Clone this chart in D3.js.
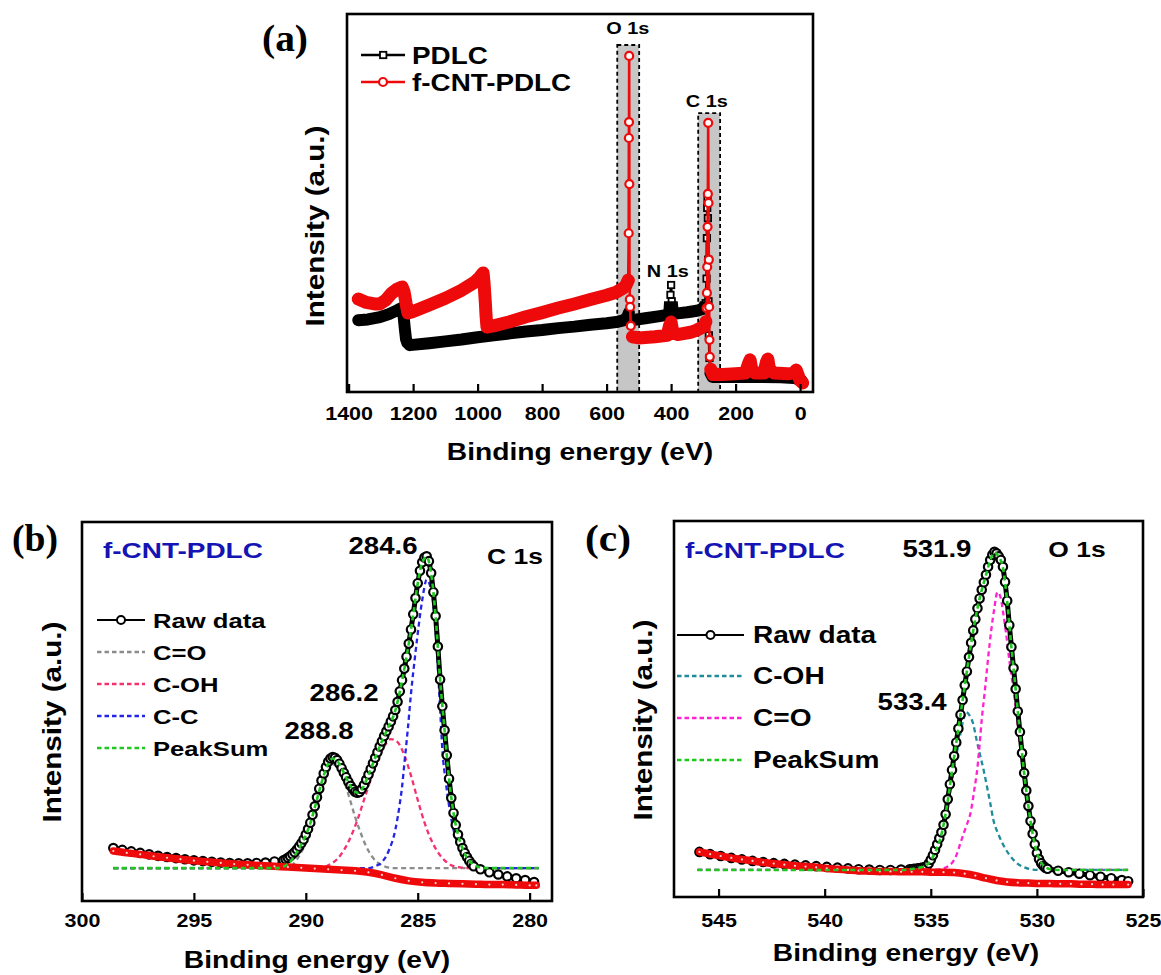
<!DOCTYPE html>
<html>
<head>
<meta charset="utf-8">
<script src="https://cdn.jsdelivr.net/npm/d3@7"></script>
<style>
  body { margin: 0; background: #fff; }
  text { font-family: "Liberation Sans", Arial, sans-serif; font-weight: bold; fill: #000; }
  text.serif { font-family: "Liberation Serif", "Times New Roman", serif; }
</style>
</head>
<body>
<div id="chart"></div>
<script>
/*####### Data #######*/

// (a) survey spectra  [binding energy (eV), intensity (a.u.)]
const surveyTicks = [1400, 1200, 1000, 800, 600, 400, 200, 0];
const surveyPDLC = [
  [1370,19.0],[1340,19.2],[1303,19.8],[1275,20.6],[1250,21.6],[1236,22.2],[1230,20.5],[1226,17.0],
  [1222,14.0],[1218,13.0],[1210,12.4],[1150,12.9],[1100,13.4],[1050,13.9],[1000,14.5],[950,15.0],
  [900,15.5],[850,16.0],[800,16.4],[750,16.9],[700,17.3],[650,17.8],[600,18.2],[570,18.5],[545,19.0],
  [535,20.0],[531,21.0],[527,19.0],[520,19.0],[480,19.5],[440,20.0],[412,20.4],[405,21.5],[402,25.7],
  [400,28.3],[398,24.0],[395,21.0],[380,20.8],[350,21.1],[320,21.5],[300,22.0],[293,23.5],[290,30.0],
  [289,40.7],[288,48.7],[287,50.8],[286,46.0],[285,35.0],[284,24.0],[283,15.0],[281,9.0],[278,5.0],
  [272,4.0],[200,4.0],[120,4.0],[60,3.9],[20,3.7],[5,3.4],[-5,3.0]
];
const surveyCNT = [
  [1370,24.6],[1345,23.7],[1320,23.3],[1303,23.3],[1285,24.3],[1268,26.0],[1250,27.2],[1234,27.8],
  [1228,26.5],[1222,23.5],[1216,20.9],[1200,21.3],[1150,23.0],[1100,24.8],[1050,26.9],[1010,29.0],
  [993,30.4],[983,31.5],[980,28.8],[978,26.2],[976,23.6],[974,20.4],[971,17.2],[950,17.5],[900,18.6],
  [850,19.9],[800,21.0],[750,22.2],[700,23.3],[650,24.5],[600,25.6],[570,26.4],[550,27.4],[540,28.2],
  [533,29.6],[531.5,42.0],[531,67.2],[530.5,71.4],[530,88.9],[529.5,55.0],[529,29.5],[528,24.5],
  [527,22.5],[525,17.5],[520,14.6],[500,14.3],[450,14.6],[412,15.0],[405,17.5],[400,18.5],[395,16.0],
  [380,15.2],[340,15.8],[320,16.4],[300,17.2],[292,18.6],[290,22.2],[289,26.2],[288,33.1],[287,43.7],
  [286,52.4],[285,71.2],[284,50.0],[283,35.0],[282,22.5],[281,13.8],[280,9.3],[277,6.0],[270,4.6],
  [240,4.6],[200,4.8],[170,5.0],[160,7.5],[155,8.5],[150,6.0],[140,5.0],[112,5.0],[105,7.8],[100,8.7],
  [95,6.0],[80,5.0],[40,4.8],[20,5.0],[12,5.8],[5,4.2],[0,3.0],[-8,2.4]
];
const surveyRegions = [
  { name: 'O 1s', from: 567, to: 499, top: 91.8 },
  { name: 'C 1s', from: 316, to: 248, top: 73.8 }
];
const surveyNotes = [['O 1s', 534, 94.7], ['C 1s', 289, 75.4], ['N 1s', 410, 30.4]];

// (b) C 1s high resolution
const c1sTicks = [300, 295, 290, 285, 280];
const c1sRaw = [
  [298.6,12.6],[298.2,12.1],[297.8,11.7],[297.4,11.3],[297.0,10.9],[296.6,10.5],[296.2,10.2],[295.8,9.9],
  [295.4,9.6],[295.0,9.3],[294.6,9.1],[294.2,8.9],[293.8,8.7],[293.4,8.6],[293.0,8.5],[292.6,8.5],
  [292.2,8.6],[291.8,8.7],[291.4,9.0],[291.0,9.3],[290.9,9.6],[290.8,10.0],[290.7,10.4],[290.6,10.9],
  [290.5,11.5],[290.4,12.2],[290.3,13.0],[290.2,13.9],[290.1,14.9],[290.0,16.2],[289.9,17.7],[289.8,19.4],
  [289.7,21.5],[289.6,23.8],[289.5,26.2],[289.4,28.5],[289.3,30.7],[289.2,32.6],[289.1,34.3],[289.0,35.7],
  [288.9,36.6],[288.8,37.0],[288.7,36.8],[288.6,36.2],[288.5,35.2],[288.4,34.0],[288.3,32.8],[288.2,31.6],
  [288.1,30.4],[288.0,29.3],[287.9,28.4],[287.8,27.7],[287.7,27.4],[287.6,27.6],[287.5,28.4],[287.4,29.5],
  [287.3,30.9],[287.2,32.3],[287.1,33.8],[287.0,35.3],[286.9,36.8],[286.8,38.3],[286.7,39.8],[286.6,41.2],
  [286.5,42.6],[286.4,43.9],[286.3,45.2],[286.2,46.5],[286.1,47.9],[286.0,49.6],[285.9,51.8],[285.8,54.6],
  [285.7,57.6],[285.6,60.7],[285.5,63.9],[285.4,67.4],[285.3,71.2],[285.2,75.3],[285.1,79.6],[285.0,83.6],
  [284.9,86.9],[284.8,89.2],[284.7,90.5],[284.6,90.8],[284.5,89.5],[284.4,86.3],[284.3,81.2],[284.2,74.8],
  [284.1,66.6],[284.0,57.8],[283.9,50.6],[283.8,44.2],[283.7,37.5],[283.6,31.2],[283.5,26.0],[283.4,22.0],
  [283.3,18.8],[283.2,16.2],[283.1,14.2],[283.0,12.6],[282.9,11.3],[282.8,10.2],[282.7,9.2],[282.6,8.4],
  [282.5,7.7],[282.2,6.9],[281.8,6.1],[281.4,5.5],[281.0,5.0],[280.6,4.5],[280.2,4.0],[279.8,3.5]
];
const c1sBackground = [
  [298.6,11.8],[298.0,11.3],[297.4,10.9],[296.8,10.4],[296.2,10.0],[295.6,9.6],[295.0,9.2],[294.4,8.9],
  [293.8,8.6],[293.2,8.3],[292.6,8.1],[292.0,7.9],[291.4,7.7],[290.8,7.5],[290.2,7.3],[289.6,7.1],
  [289.0,6.9],[288.4,6.7],[287.8,6.5],[287.2,6.1],[286.6,5.4],[286.0,4.5],[285.4,3.8],[284.8,3.4],
  [284.2,3.2],[283.6,3.1],[283.0,3.0],[282.4,2.9],[281.8,2.8],[281.2,2.8],[280.6,2.7],[280.0,2.6],[279.7,2.6]
];
const c1sCO = [
  [298.6,7.2],[292.0,7.2],[290.8,7.3],[290.6,8.0],[290.4,9.5],[290.2,11.5],[290.0,14.0],[289.8,17.5],
  [289.6,21.5],[289.4,25.8],[289.2,29.8],[289.0,33.0],[288.8,35.0],[288.6,34.8],[288.4,32.5],[288.2,29.0],
  [288.0,25.0],[287.8,21.0],[287.6,17.5],[287.3,13.0],[287.0,10.0],[286.7,8.3],[286.4,7.5],[286.0,7.2],[279.6,7.2]
];
const c1sCOH = [
  [298.6,7.2],[289.6,7.2],[289.2,7.5],[288.9,8.3],[288.6,9.6],[288.3,12.0],[288.0,15.5],[287.7,20.0],
  [287.4,25.5],[287.1,31.0],[286.8,36.0],[286.5,39.8],[286.2,41.8],[285.9,41.0],[285.6,37.5],[285.3,32.0],
  [285.0,25.5],[284.7,19.5],[284.4,14.8],[284.1,11.5],[283.8,9.3],[283.5,8.0],[283.1,7.4],[282.6,7.2],[279.6,7.2]
];
const c1sCC = [
  [298.6,7.2],[287.2,7.2],[286.9,7.7],[286.6,8.8],[286.3,11.8],[286.0,17.5],[285.8,24.5],[285.7,29.0],
  [285.6,35.0],[285.45,44.0],[285.3,54.0],[285.1,65.0],[284.95,72.5],[284.8,79.0],[284.6,84.5],
  [284.45,83.0],[284.3,78.0],[284.2,71.0],[284.1,61.0],[284.0,50.0],[283.9,39.0],[283.75,30.5],
  [283.6,24.0],[283.4,17.5],[283.2,13.5],[283.0,11.0],[282.8,9.0],[282.5,7.6],[282.1,7.2],[279.6,7.2]
];
const c1sSum = [
  [298.6,7.2],[291.4,7.2],[291.0,7.6],[290.8,8.3],[290.6,9.6],[290.4,11.5],[290.2,13.6],[290.0,16.0],
  [289.8,19.2],[289.6,23.4],[289.4,27.9],[289.2,32.0],[289.0,35.2],[288.8,36.6],[288.6,36.0],[288.4,34.0],
  [288.2,31.5],[288.0,29.2],[287.8,27.7],[287.7,27.4],[287.5,28.3],[287.2,32.2],[286.9,36.8],[286.6,41.2],
  [286.3,45.2],[286.0,49.5],[285.8,54.5],[285.6,60.6],[285.4,67.4],[285.2,75.2],[285.0,83.5],[284.8,89.1],
  [284.6,90.6],[284.4,86.2],[284.2,74.7],[284.0,57.8],[283.8,44.2],[283.6,31.2],[283.4,22.0],[283.2,16.2],
  [283.0,12.5],[282.8,10.0],[282.6,8.6],[282.4,7.8],[282.1,7.3],[281.8,7.2],[279.6,7.2]
];
const c1sPeaks = [['284.6', 286.55, 91.3], ['286.2', 288.29, 52.0], ['288.8', 289.41, 41.9]];

// (c) O 1s high resolution
const o1sTicks = [545, 540, 535, 530, 525];
const o1sRaw = [
  [545.9,12.0],[545.4,11.4],[544.9,10.9],[544.4,10.4],[543.9,10.0],[543.4,9.6],[542.9,9.3],[542.4,9.0],
  [541.9,8.8],[541.4,8.6],[540.9,8.4],[540.4,8.2],[539.9,8.0],[539.4,7.8],[538.9,7.6],[538.4,7.4],
  [537.9,7.3],[537.4,7.2],[536.9,7.2],[536.4,7.3],[536.0,7.4],[535.9,7.4],[535.8,7.5],[535.7,7.5],
  [535.6,7.6],[535.5,7.7],[535.4,7.8],[535.3,7.9],[535.2,8.1],[535.1,8.9],[535.0,9.9],[534.9,11.1],
  [534.8,12.5],[534.7,14.0],[534.6,15.6],[534.5,17.2],[534.4,19.2],[534.3,22.0],[534.2,26.0],[534.1,30.0],
  [534.0,33.8],[533.9,37.5],[533.8,41.1],[533.7,44.8],[533.6,48.5],[533.5,52.4],[533.4,56.3],[533.3,60.0],
  [533.2,63.8],[533.1,67.6],[533.0,70.9],[532.9,73.9],[532.8,76.8],[532.7,79.4],[532.6,81.7],[532.5,83.7],
  [532.4,85.7],[532.3,87.8],[532.2,89.6],[532.1,91.0],[532.0,91.8],[531.9,91.4],[531.8,90.6],[531.7,89.7],
  [531.6,87.8],[531.5,83.8],[531.4,78.8],[531.3,72.3],[531.2,66.5],[531.1,60.9],[531.0,55.3],[530.9,49.4],
  [530.8,43.9],[530.7,38.3],[530.6,33.0],[530.5,28.3],[530.4,24.2],[530.3,20.2],[530.2,16.8],[530.1,14.0],
  [530.0,11.7],[529.9,10.1],[529.8,9.0],[529.7,8.3],[529.6,7.8],[529.5,7.5],[529.0,7.0],[528.5,6.6],
  [528.0,6.2],[527.5,5.8],[527.0,5.4],[526.5,5.0],[526.0,4.5],[525.7,4.2]
];
const o1sBackground = [
  [545.9,12.0],[545.4,11.4],[544.9,10.9],[544.4,10.4],[543.9,10.0],[543.4,9.6],[542.9,9.2],[542.4,8.9],
  [541.9,8.6],[541.4,8.3],[540.9,8.1],[540.4,7.9],[539.9,7.6],[539.4,7.4],[538.9,7.2],[538.4,7.0],
  [537.9,6.9],[537.4,6.8],[536.9,6.8],[536.4,6.7],[535.9,6.7],[535.4,6.7],[534.9,6.6],[534.4,6.6],
  [533.9,6.5],[533.4,6.2],[532.9,5.7],[532.4,5.0],[531.9,4.4],[531.4,4.0],[530.9,3.8],[530.4,3.7],
  [529.9,3.6],[529.4,3.6],[528.9,3.5],[528.4,3.5],[527.9,3.4],[527.4,3.4],[526.9,3.3],[526.4,3.3],[525.7,3.3]
];
const o1sCOH = [
  [546.0,7.2],[536.6,7.2],[535.6,7.4],[535.3,8.0],[535.0,9.6],[534.8,11.8],[534.6,14.8],[534.4,19.0],
  [534.2,24.5],[534.0,31.0],[533.8,37.5],[533.6,43.5],[533.45,47.5],[533.35,49.2],[533.2,48.5],[533.0,46.0],
  [532.85,42.0],[532.7,38.3],[532.5,33.5],[532.35,29.3],[532.2,25.0],[532.05,20.5],[531.8,16.5],[531.5,13.0],
  [531.2,10.5],[530.9,8.8],[530.6,7.9],[530.2,7.3],[529.8,7.2],[525.7,7.2]
];
const o1sCO = [
  [546.0,7.2],[535.0,7.2],[534.5,7.5],[534.1,8.5],[533.8,11.0],[533.6,14.4],[533.35,18.5],[533.1,23.1],
  [532.95,28.5],[532.8,34.5],[532.7,40.5],[532.6,47.1],[532.45,55.0],[532.3,63.5],[532.15,71.0],[532.0,77.0],
  [531.86,81.1],[531.7,79.5],[531.6,76.0],[531.45,70.0],[531.3,63.0],[531.1,55.0],[530.9,45.5],[530.7,36.0],
  [530.5,27.0],[530.3,19.5],[530.1,13.5],[529.9,10.0],[529.6,8.0],[529.2,7.3],[528.8,7.2],[525.7,7.2]
];
const o1sSum = [
  [546.0,7.2],[536.4,7.2],[535.8,7.5],[535.4,8.0],[535.1,9.0],[534.8,11.8],[534.5,16.6],[534.2,25.6],
  [534.0,33.5],[533.8,41.0],[533.6,48.5],[533.4,56.2],[533.2,63.8],[533.0,70.8],[532.8,76.8],[532.6,81.6],
  [532.4,85.6],[532.2,89.5],[532.0,91.6],[531.8,90.5],[531.6,87.6],[531.4,78.6],[531.2,66.4],[531.0,55.2],
  [530.8,43.8],[530.6,32.9],[530.4,24.1],[530.2,16.8],[530.0,11.8],[529.8,9.2],[529.6,7.9],[529.3,7.3],
  [529.0,7.2],[525.7,7.2]
];
const o1sPeaks = [['531.9', 534.71, 90.4], ['533.4', 535.88, 49.7]];

/*####### Styles #######*/
const RED = '#ee0a0a';
const GREEN = '#1ec81e';
const c1sColors = { 'C=O': '#8c8c8c', 'C-OH': '#f5306e', 'C-C': '#2424e6', 'PeakSum': GREEN };
const o1sColors = { 'C-OH': '#1f8c9a', 'C=O': '#ff22d0', 'PeakSum': GREEN };

/*####### Core SVG #######*/
const svg = d3.select('#chart').append('svg')
  .attr('width', 1161)
  .attr('height', 975);
svg.append('rect').attr('width', 1161).attr('height', 975).attr('fill', '#fff');
const defs = svg.append('defs');

// widen text along its direction (the figure font is wider than Arial)
function stretch(sel, k) {
  sel.each(function () {
    const len = this.getComputedTextLength();
    d3.select(this).attr('textLength', len * k).attr('lengthAdjust', 'spacingAndGlyphs');
  });
}

function addClip(id, x, y, w, h) {
  defs.append('clipPath').attr('id', id).append('rect')
    .attr('x', x).attr('y', y).attr('width', w).attr('height', h);
  return `url(#${id})`;
}

function frame(p) {
  svg.append('rect')
    .attr('x', p.left).attr('y', p.top)
    .attr('width', p.right - p.left).attr('height', p.bottom - p.top)
    .attr('fill', 'none').attr('stroke', '#000').attr('stroke-width', 2.6);
}

function bottomAxis(p, x, ticks, pad) {
  const ax = svg.append('g')
    .attr('transform', `translate(0,${p.bottom})`)
    .call(d3.axisBottom(x).tickValues(ticks).tickFormat(d3.format('d'))
      .tickSizeInner(-8).tickSizeOuter(0).tickPadding(pad));
  ax.select('.domain').remove();
  ax.selectAll('line').attr('stroke', '#000').attr('stroke-width', 2.2);
  ax.selectAll('text').attr('font-size', 18.5).call(stretch, 1.16);
}

function label(text, x, y, size, k, anchor) {
  return svg.append('text').attr('x', x).attr('y', y)
    .attr('font-size', size).attr('text-anchor', anchor || 'start')
    .text(text).call(stretch, k || 1.2);
}

function yTitle(x, y) {
  svg.append('text')
    .attr('transform', `translate(${x},${y}) rotate(-90)`)
    .attr('text-anchor', 'middle').attr('font-size', 25)
    .text('Intensity (a.u.)')
    .attr('textLength', 201).attr('lengthAdjust', 'spacingAndGlyphs');
}

function panelLetter(text, x, y) {
  svg.append('text').attr('class', 'serif')
    .attr('x', x).attr('y', y).attr('font-size', 38)
    .text(text)
    .attr('textLength', 46).attr('lengthAdjust', 'spacingAndGlyphs');
}

/*####### (a) Survey #######*/
const pa = { left: 347, right: 813, top: 14, bottom: 392 };
const xA = d3.scaleLinear().domain([1405, -40]).range([pa.left, pa.right]);
const yA = d3.scaleLinear().domain([0, 100]).range([pa.bottom, pa.top]);
const clipA = addClip('clipA', pa.left, pa.top, pa.right - pa.left, pa.bottom - pa.top);
const gA = svg.append('g').attr('clip-path', clipA);

gA.selectAll('rect.region')
  .data(surveyRegions)
  .join('rect')
  .attr('class', 'region')
  .attr('x', d => xA(d.from))
  .attr('width', d => xA(d.to) - xA(d.from))
  .attr('y', d => yA(d.top))
  .attr('height', d => pa.bottom - yA(d.top))
  .attr('fill', '#c6c6c6')
  .attr('stroke', '#000')
  .attr('stroke-width', 1.8)
  .attr('stroke-dasharray', '4,3');

const surveyLine = d3.line().x(d => xA(d[0])).y(d => yA(d[1]));

// runs of the spectrum that are not part of the steep core-level spikes
function bandRuns(data) {
  const runs = [];
  let cur = null;
  for (let i = 1; i < data.length; i++) {
    const a = data[i - 1], b = data[i];
    const dx = Math.abs(xA(b[0]) - xA(a[0]));
    const dy = Math.abs(yA(b[1]) - yA(a[1]));
    const inRegion = surveyRegions.some(r => a[0] <= r.from && b[0] >= r.to);
    if (inRegion && dy > 3 * dx) { cur = null; continue; }
    if (!cur) { cur = [a]; runs.push(cur); }
    cur.push(b);
  }
  return runs;
}

function surveySeries(data, color, bandTop, bandWidth, shape) {
  const g = gA.append('g');
  g.append('path').datum(data).attr('d', surveyLine)
    .attr('fill', 'none').attr('stroke', color).attr('stroke-width', 2.6);
  if (shape === 'square') {
    g.selectAll('rect').data(data).join('rect')
      .attr('x', d => xA(d[0]) - 3.2).attr('y', d => yA(d[1]) - 3.2)
      .attr('width', 6.4).attr('height', 6.4)
      .attr('fill', '#fff').attr('stroke', color).attr('stroke-width', 1.8);
  } else {
    g.selectAll('circle').data(data).join('circle')
      .attr('cx', d => xA(d[0])).attr('cy', d => yA(d[1])).attr('r', 4)
      .attr('fill', '#fff').attr('stroke', color).attr('stroke-width', 2.2);
  }
  // dense noisy data reads as a thick band away from the spikes
  const clip = addClip('band' + shape, pa.left, yA(bandTop), pa.right - pa.left, pa.bottom - yA(bandTop));
  g.selectAll('path.band').data(bandRuns(data)).join('path')
    .attr('class', 'band')
    .attr('d', surveyLine)
    .attr('clip-path', clip)
    .attr('fill', 'none').attr('stroke', color).attr('stroke-width', bandWidth)
    .attr('stroke-linejoin', 'round').attr('stroke-linecap', 'round');
}
surveySeries(surveyPDLC, '#000', 24, 12, 'square');
surveySeries(surveyCNT, RED, 34, 13, 'circle');

frame(pa);
bottomAxis(pa, xA, surveyTicks, 15);

surveyNotes.forEach(d => label(d[0], xA(d[1]), yA(d[2]), 17, 1.17, 'middle'));

// legend (a)
[['PDLC', '#000', 'square', 55], ['f-CNT-PDLC', RED, 'circle', 82]].forEach(([name, color, shape, cy]) => {
  svg.append('line').attr('x1', 361).attr('x2', 405).attr('y1', cy).attr('y2', cy)
    .attr('stroke', color).attr('stroke-width', 2.4);
  if (shape === 'square') {
    svg.append('rect').attr('x', 380).attr('y', cy - 3.2).attr('width', 6.4).attr('height', 6.4)
      .attr('fill', '#fff').attr('stroke', color).attr('stroke-width', 1.8);
  } else {
    svg.append('circle').attr('cx', 383).attr('cy', cy).attr('r', 4)
      .attr('fill', '#fff').attr('stroke', color).attr('stroke-width', 2.2);
  }
  label(name, 412, cy + 8.5, 23, 1.21);
});

yTitle(324, 226);
label('Binding energy (eV)', 580, 460, 23.5, 1.2, 'middle');
panelLetter('(a)', 262, 51);

/*####### (b) and (c) high resolution #######*/
function xpsPanel(p, x, y, series, ticks, pad) {
  const clip = addClip('clip' + p.left, p.left, p.top, p.right - p.left, p.bottom - p.top);
  const g = svg.append('g').attr('clip-path', clip);
  const line = d3.line().x(d => x(d[0])).y(d => y(d[1]));
  const smooth = d3.line().x(d => x(d[0])).y(d => y(d[1])).curve(d3.curveMonotoneX);

  series.comps.forEach(c => {
    g.append('path').datum(c.data).attr('d', smooth)
      .attr('fill', 'none').attr('stroke', c.color).attr('stroke-width', 2.3)
      .attr('stroke-dasharray', '5,3.5');
  });

  // raw data
  g.append('path').datum(series.raw).attr('d', line)
    .attr('fill', 'none').attr('stroke', '#000').attr('stroke-width', 5)
    .attr('stroke-linejoin', 'round');
  g.selectAll('circle.raw').data(series.raw).join('circle')
    .attr('class', 'raw')
    .attr('cx', d => x(d[0])).attr('cy', d => y(d[1])).attr('r', 4.2)
    .attr('fill', '#fff').attr('stroke', '#000').attr('stroke-width', 2.2);

  // background
  g.append('path').datum(series.bg).attr('d', smooth)
    .attr('fill', 'none').attr('stroke', RED).attr('stroke-width', 7.5)
    .attr('stroke-linecap', 'round');
  g.selectAll('circle.bg').data(series.bg).join('circle')
    .attr('class', 'bg')
    .attr('cx', d => x(d[0])).attr('cy', d => y(d[1])).attr('r', 1.1)
    .attr('fill', '#ffd6d6');

  // peak sum on top
  g.append('path').datum(series.sum).attr('d', smooth)
    .attr('fill', 'none').attr('stroke', GREEN).attr('stroke-width', 2.6)
    .attr('stroke-dasharray', '5,3.5');

  frame(p);
  bottomAxis(p, x, ticks, pad);
}

function xpsLegend(entries, x0, x1, tx, rows, size) {
  entries.forEach((e, i) => {
    const cy = rows[i];
    svg.append('line').attr('x1', x0).attr('x2', x1).attr('y1', cy).attr('y2', cy)
      .attr('stroke', e.color).attr('stroke-width', e.raw ? 2.2 : 2.3)
      .attr('stroke-dasharray', e.raw ? null : '4.5,3');
    if (e.raw) {
      svg.append('circle').attr('cx', (x0 + x1) / 2).attr('cy', cy).attr('r', 4)
        .attr('fill', '#fff').attr('stroke', '#000').attr('stroke-width', 2);
    }
    label(e.name, tx, cy + size * 0.36, size, 1.22);
  });
}

// (b)
const pb = { left: 82, right: 552, top: 522, bottom: 901 };
const xB = d3.scaleLinear().domain([300, 279]).range([pb.left, pb.right]);
const yB = d3.scaleLinear().domain([-1.6, 100]).range([pb.bottom, pb.top]);
xpsPanel(pb, xB, yB, {
  raw: c1sRaw,
  bg: c1sBackground,
  comps: [
    { data: c1sCO, color: c1sColors['C=O'] },
    { data: c1sCOH, color: c1sColors['C-OH'] },
    { data: c1sCC, color: c1sColors['C-C'] }
  ],
  sum: c1sSum
}, c1sTicks, 13);

label('f-CNT-PDLC', 103, 558, 22, 1.27).style('fill', '#1414b4');
label('C 1s', 515, 564, 22, 1.2, 'middle');
c1sPeaks.forEach(d => label(d[0], xB(d[1]), yB(d[2]), 23, 1.2, 'middle'));
xpsLegend([
  { name: 'Raw data', color: '#000', raw: true },
  { name: 'C=O', color: c1sColors['C=O'] },
  { name: 'C-OH', color: c1sColors['C-OH'] },
  { name: 'C-C', color: c1sColors['C-C'] },
  { name: 'PeakSum', color: c1sColors['PeakSum'] }
], 97, 145, 153, [620, 652, 684, 716, 748], 21);
yTitle(61, 722);
label('Binding energy (eV)', 317, 968, 23.5, 1.2, 'middle');
panelLetter('(b)', 12, 551);

// (c)
const pc = { left: 674, right: 1143, top: 521, bottom: 897 };
const xC = d3.scaleLinear().domain([547.1, 525]).range([pc.left, pc.right]);
const yC = d3.scaleLinear().domain([0, 100]).range([pc.bottom, pc.top]);
xpsPanel(pc, xC, yC, {
  raw: o1sRaw,
  bg: o1sBackground,
  comps: [
    { data: o1sCOH, color: o1sColors['C-OH'] },
    { data: o1sCO, color: o1sColors['C=O'] }
  ],
  sum: o1sSum
}, o1sTicks, 17);

label('f-CNT-PDLC', 685, 558, 22, 1.27).style('fill', '#1414b4');
label('O 1s', 1077, 557, 22, 1.2, 'middle');
o1sPeaks.forEach(d => label(d[0], xC(d[1]), yC(d[2]), 23, 1.2, 'middle'));
xpsLegend([
  { name: 'Raw data', color: '#000', raw: true },
  { name: 'C-OH', color: o1sColors['C-OH'] },
  { name: 'C=O', color: o1sColors['C=O'] },
  { name: 'PeakSum', color: o1sColors['PeakSum'] }
], 677, 744, 753, [635, 676, 718, 760], 23);
yTitle(652, 720);
label('Binding energy (eV)', 906, 961, 23.5, 1.2, 'middle');
panelLetter('(c)', 585, 551);
</script>
</body>
</html>
